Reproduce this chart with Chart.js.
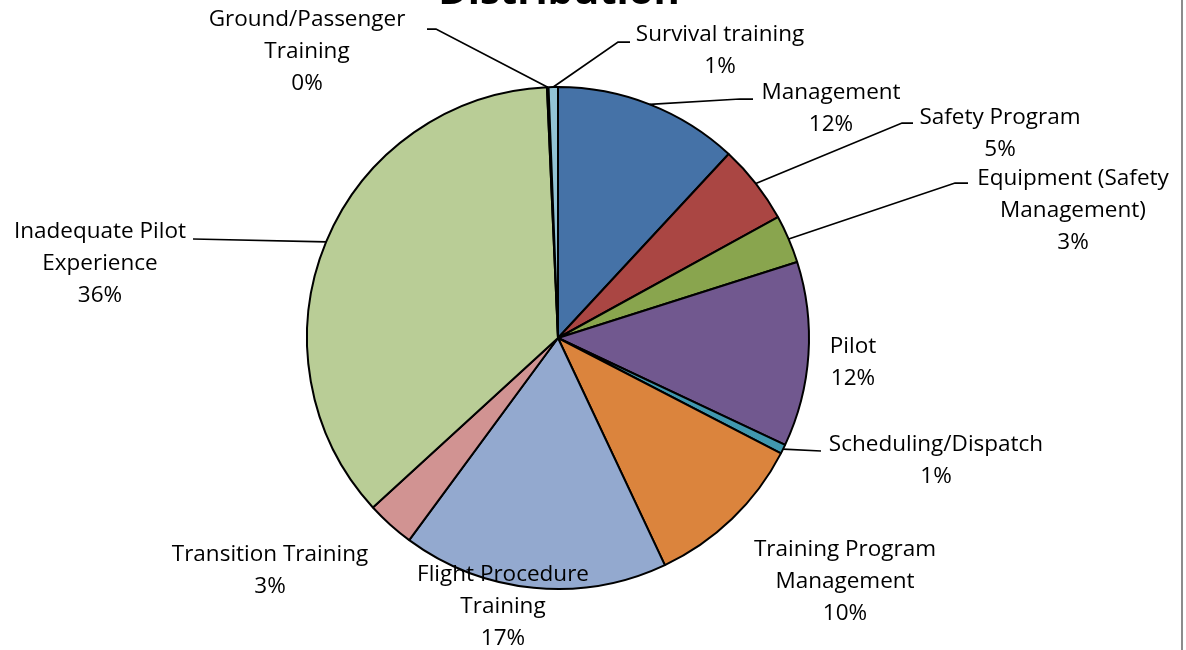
<!DOCTYPE html>
<html>
<head>
<meta charset="utf-8">
<script src="https://cdn.jsdelivr.net/npm/chart.js@4"></script>
<style>
  body { margin: 0; background: #fff; }
</style>
</head>
<body>
<canvas id="pieChart" width="1186" height="650"></canvas>
<script>
// chart data
const categories = ['Management', 'Safety Program', 'Equipment (Safety Management)', 'Pilot',
    'Scheduling/Dispatch', 'Training Program Management', 'Flight Procedure Training',
    'Transition Training', 'Inadequate Pilot Experience', 'Ground/Passenger Training', 'Survival training'];
const values = [11.9, 5.1, 3.1, 11.9, 0.6, 10.4, 17.1, 3.1, 36.1, 0.1, 0.6];
const sliceColors = ['#4572A7', '#AA4643', '#89A54E', '#71588F', '#4198AF', '#DB843D',
    '#93A9CF', '#D19392', '#B9CD96', '#A99BBD', '#92C3D5'];
const titleText = 'Distribution';

// label layout (centre x, middle of first line y), leader elbow and stub end
const labelX = [831, 1000, 1073, 853, 936, 845, 503, 270, 100, 307, 720];
const labelY = [93, 118, 179, 347, 445, 550, 575, 555, 232, 20, 35];
const leaders = [
    [740, 99, 753], [902, 123, 913], [955, 183, 968], null, [821, 451, 821],
    null, null, null, [193, 239, 193], [436, 29, 427], [618, 42, 630]
];

const labelFont = '22.5px "Open Sans"';
const lineGap = 32;

function wrapText(ctx, text, maxWidth) {
    const words = text.split(' ');
    const lines = [];
    let line = '';
    words.forEach(w => {
        const test = line ? line + ' ' + w : w;
        if (line && ctx.measureText(test).width > maxWidth) {
            lines.push(line);
            line = w;
        } else {
            line = test;
        }
    });
    lines.push(line);
    return lines;
}

const labelPlugin = {
    id: 'pieLabels',
    afterDraw(chart) {
        const ctx = chart.ctx;
        const meta = chart.getDatasetMeta(0);
        const total = values.reduce((a, b) => a + b, 0);
        ctx.save();

        // leader lines
        ctx.strokeStyle = '#000';
        ctx.lineWidth = 1.75;
        meta.data.forEach((arc, i) => {
            const l = leaders[i];
            if (!l) return;
            const p = arc.getProps(['x', 'y', 'startAngle', 'endAngle', 'outerRadius'], true);
            const mid = (p.startAngle + p.endAngle) / 2;
            const sx = p.x + Math.cos(mid) * p.outerRadius;
            const sy = p.y + Math.sin(mid) * p.outerRadius;
            ctx.beginPath();
            ctx.moveTo(sx, sy);
            ctx.lineTo(l[0], l[1]);
            ctx.lineTo(l[2], l[1]);
            ctx.stroke();
        });

        // labels
        ctx.font = labelFont;
        ctx.fillStyle = '#000';
        ctx.textAlign = 'center';
        ctx.textBaseline = 'middle';
        categories.forEach((name, i) => {
            const lines = wrapText(ctx, name, 240);
            lines.push(Math.round(values[i] / total * 100) + '%');
            lines.forEach((t, k) => ctx.fillText(t, labelX[i], labelY[i] + k * lineGap));
        });

        // title (first line sits above the visible area)
        ctx.font = 'bold 40px "Open Sans"';
        ctx.textBaseline = 'alphabetic';
        ctx.fillText(titleText, 559, 4);

        // chart frame on the right
        ctx.strokeStyle = '#8c8c8c';
        ctx.lineWidth = 2;
        ctx.beginPath();
        ctx.moveTo(1182, 0);
        ctx.lineTo(1182, 650);
        ctx.stroke();
        ctx.restore();
    }
};

new Chart(document.getElementById('pieChart'), {
    type: 'pie',
    data: {
        labels: categories,
        datasets: [{
            data: values,
            backgroundColor: sliceColors,
            borderColor: '#000',
            borderWidth: 2
        }]
    },
    options: {
        responsive: false,
        animation: false,
        layout: {
            padding: { top: 86, left: 306, right: 376, bottom: 60 }
        },
        plugins: {
            legend: { display: false },
            tooltip: { enabled: false },
            title: { display: false }
        }
    },
    plugins: [labelPlugin]
});
</script>
</body>
</html>
